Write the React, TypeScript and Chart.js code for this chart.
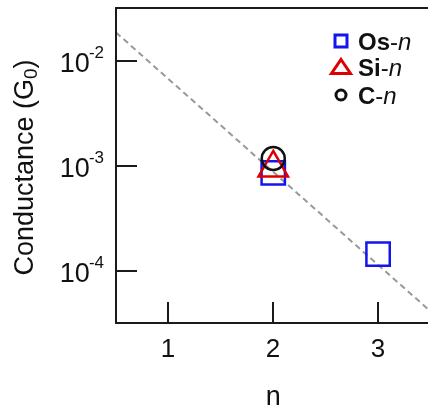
import React, { useEffect, useRef } from 'react';
import { Chart, registerables } from 'chart.js';

Chart.register(...registerables);

// ---- data ----
const nOs = [2, 3];
const gOs = [8.6e-4, 1.45e-4];
const nSi = [2];
const gSi = [9.6e-4];
const nC = [2];
const gC = [1.18e-3];
const nFit = [0.5, 3.5];
const gFit = [0.0187, 4.13e-5];
const xTicks = [1, 2, 3];
const yTickExponents = [-4, -3, -2];
const seriesNames = ['Os', 'Si', 'C'];
const seriesSuffix = 'n';
const xTitle = 'n';
const yTitleMain = 'Conductance (G';
const yTitleSub = '0';
const yTitleEnd = ')';

const FONT = '"Liberation Sans", Arial, Helvetica, sans-serif';
const BLUE = '#1414ee';
const RED = '#dd0000';
const BLACK = '#111111';

const toPts = (xs: number[], ys: number[]) => xs.map((x, i) => ({ x, y: ys[i] }));

const decorPlugin = {
  id: 'decor',
  afterDraw(chart: any) {
    const { ctx, chartArea: a, scales } = chart;
    const xs = scales.x;
    const ys = scales.y;
    ctx.save();
    ctx.strokeStyle = '#1a1a1a';
    ctx.fillStyle = BLACK;
    ctx.lineWidth = 2;
    // box
    ctx.beginPath();
    ctx.rect(a.left, a.top, a.right - a.left, a.bottom - a.top);
    ctx.stroke();

    // y ticks + labels
    yTickExponents.forEach((e) => {
      const y = Math.round(ys.getPixelForValue(Math.pow(10, e)));
      ctx.beginPath();
      ctx.moveTo(a.left, y);
      ctx.lineTo(a.left + 21, y);
      ctx.stroke();
      const right = a.left - 12;
      ctx.textAlign = 'left';
      ctx.textBaseline = 'alphabetic';
      ctx.font = `17px ${FONT}`;
      const sup = String(e);
      const supW = ctx.measureText(sup).width;
      ctx.fillText(sup, right - supW, y - 3);
      ctx.font = `27px ${FONT}`;
      const bw = ctx.measureText('10').width;
      ctx.fillText('10', right - supW - bw + 1, y + 11);
    });

    // x ticks + labels
    xTicks.forEach((v) => {
      const x = Math.round(xs.getPixelForValue(v));
      ctx.beginPath();
      ctx.moveTo(x, a.bottom);
      ctx.lineTo(x, a.bottom - 21);
      ctx.stroke();
      ctx.font = `26px ${FONT}`;
      ctx.textAlign = 'center';
      ctx.textBaseline = 'alphabetic';
      ctx.fillText(String(v), x, a.bottom + 34);
    });

    // x title
    ctx.font = `27px ${FONT}`;
    ctx.textAlign = 'center';
    ctx.fillText(xTitle, (a.left + a.right) / 2, a.bottom + 82);

    // y title
    ctx.save();
    ctx.translate(33, (a.top + a.bottom) / 2 + 2);
    ctx.rotate(-Math.PI / 2);
    ctx.textAlign = 'left';
    ctx.font = `27px ${FONT}`;
    const w1 = ctx.measureText(yTitleMain).width;
    const w3 = ctx.measureText(yTitleEnd).width;
    ctx.font = `19px ${FONT}`;
    const w2 = ctx.measureText(yTitleSub).width;
    let sx = -(w1 + w2 + w3) / 2;
    ctx.font = `27px ${FONT}`;
    ctx.fillText(yTitleMain, sx, 0);
    sx += w1;
    ctx.font = `19px ${FONT}`;
    ctx.fillText(yTitleSub, sx, 4);
    sx += w2;
    ctx.font = `27px ${FONT}`;
    ctx.fillText(yTitleEnd, sx, 0);
    ctx.restore();

    // legend
    const rows = [41, 67.5, 95];
    const ix = 341;
    const tx = 358;
    const datasets = chart.data.datasets.slice(1);
    datasets.forEach((ds: any, i: number) => {
      const cy = rows[i];
      ctx.lineWidth = 3;
      ctx.strokeStyle = ds.borderColor;
      ctx.beginPath();
      if (ds.pointStyle === 'rect') {
        ctx.rect(ix - 6, cy - 6, 12, 12);
      } else if (ds.pointStyle === 'triangle') {
        ctx.moveTo(ix, cy - 8);
        ctx.lineTo(ix + 9.5, cy + 6);
        ctx.lineTo(ix - 9.5, cy + 6);
        ctx.closePath();
      } else {
        ctx.arc(ix, cy, 5, 0, Math.PI * 2);
      }
      ctx.stroke();
      ctx.fillStyle = BLACK;
      ctx.textAlign = 'left';
      ctx.textBaseline = 'alphabetic';
      let x = tx;
      const base = cy + 8.5;
      ctx.font = `bold 24px ${FONT}`;
      ctx.fillText(seriesNames[i], x, base);
      x += ctx.measureText(seriesNames[i]).width;
      ctx.font = `24px ${FONT}`;
      ctx.fillText('-', x, base);
      x += ctx.measureText('-').width;
      ctx.font = `italic 24px ${FONT}`;
      ctx.fillText(seriesSuffix, x, base);
    });
    ctx.restore();
  },
};

export default function App() {
  const ref = useRef<HTMLCanvasElement>(null);
  useEffect(() => {
    const chart = new Chart(ref.current as HTMLCanvasElement, {
      type: 'scatter',
      data: {
        datasets: [
          {
            label: 'fit',
            data: toPts(nFit, gFit),
            showLine: true,
            borderColor: '#999999',
            borderWidth: 2,
            borderDash: [6, 4],
            pointRadius: 0,
            order: 3,
          },
          {
            label: 'Os-n',
            data: toPts(nOs, gOs),
            pointStyle: 'rect',
            pointRadius: 16.5,
            borderColor: BLUE,
            backgroundColor: 'rgba(0,0,0,0)',
            pointBorderWidth: 2.5,
            order: 2,
          },
          {
            label: 'Si-n',
            data: toPts(nSi, gSi),
            pointStyle: 'triangle',
            pointRadius: 17,
            borderColor: RED,
            backgroundColor: 'rgba(0,0,0,0)',
            pointBorderWidth: 2.5,
            order: 1,
          },
          {
            label: 'C-n',
            data: toPts(nC, gC),
            pointStyle: 'circle',
            pointRadius: 11.5,
            borderColor: BLACK,
            backgroundColor: 'rgba(0,0,0,0)',
            pointBorderWidth: 2.5,
            order: 0,
          },
        ],
      } as any,
      options: {
        animation: false,
        responsive: false,
        events: [],
        layout: { autoPadding: false, padding: { top: 8, right: 9.5, bottom: 0, left: 0 } },
        plugins: { legend: { display: false }, tooltip: { enabled: false } },
        scales: {
          x: {
            type: 'linear',
            min: 0.5,
            max: 3.5,
            grid: { display: false },
            border: { display: false },
            ticks: { display: false },
            afterBuildTicks: (s: any) => {
              s.ticks = xTicks.map((v) => ({ value: v }));
            },
            afterFit: (s: any) => {
              s.height = 83;
            },
          },
          y: {
            type: 'logarithmic',
            min: Math.pow(10, -4.495),
            max: Math.pow(10, -1.495),
            grid: { display: false },
            border: { display: false },
            ticks: { display: false },
            afterBuildTicks: (s: any) => {
              s.ticks = yTickExponents.map((e) => ({ value: Math.pow(10, e) }));
            },
            afterFit: (s: any) => {
              s.width = 116;
            },
          },
        },
      } as any,
      plugins: [decorPlugin],
    });
    return () => chart.destroy();
  }, []);
  return (
    <div
      style={{
        position: 'fixed',
        left: 0,
        top: 0,
        width: 428,
        height: 406,
        overflow: 'hidden',
        background: '#fff',
      }}
    >
      <canvas ref={ref} width={440} height={406} style={{ display: 'block', width: 440, height: 406 }} />
    </div>
  );
}
